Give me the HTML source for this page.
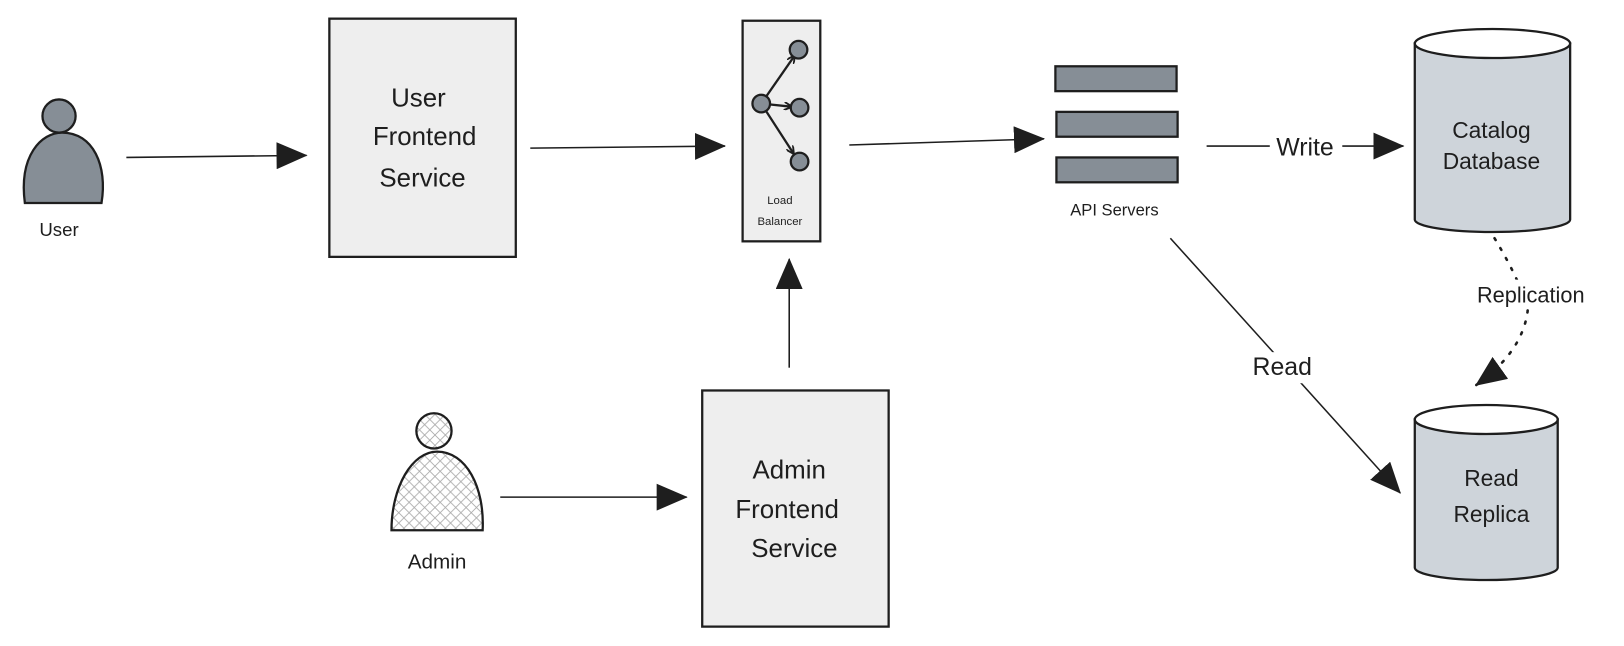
<!DOCTYPE html>
<html><head><meta charset="utf-8"><style>html,body{margin:0;padding:0;background:#fff}svg{display:block}text{font-family:"Liberation Sans",sans-serif;fill:#1e1e1e;text-anchor:middle}</style></head>
<body>
<svg width="1624" height="646" viewBox="0 0 1568 623.7" xmlns="http://www.w3.org/2000/svg">
<defs>
<marker id="b" markerWidth="30" markerHeight="26" refX="29" refY="13" orient="auto" markerUnits="userSpaceOnUse"><path d="M0,0 L30,13 L0,26 z" fill="#1e1e1e"/></marker>
<marker id="s" markerWidth="8" markerHeight="8" refX="7" refY="4" orient="auto" markerUnits="userSpaceOnUse"><path d="M0,0 L8,4 L0,8" fill="none" stroke="#1e1e1e" stroke-width="1.8"/></marker>
<pattern id="h" width="10" height="10" patternUnits="userSpaceOnUse"><path d="M0,0 L10,10 M10,0 L0,10" stroke="#aaa" stroke-width="0.8"/></pattern>
</defs>
<g stroke="#1e1e1e" stroke-width="1.5" fill="none">
<line x1="122" y1="152" x2="296" y2="150" marker-end="url(#b)"/>
<line x1="512" y1="143" x2="700" y2="141" marker-end="url(#b)"/>
<line x1="820" y1="140" x2="1008" y2="134" marker-end="url(#b)"/>
<line x1="1165" y1="141" x2="1355" y2="141" marker-end="url(#b)"/>
<line x1="1130" y1="230" x2="1352" y2="476" marker-end="url(#b)"/>
<line x1="762" y1="355" x2="762" y2="250" marker-end="url(#b)"/>
<line x1="483" y1="480" x2="663" y2="480" marker-end="url(#b)"/>
<path d="M1443,230 Q1470,275 1475,300 Q1470,340 1425,372" stroke-width="2.5" stroke-dasharray="2,9" stroke-linecap="round" marker-end="url(#b)"/>
</g>
<g stroke="#1e1e1e" stroke-width="2.2">
<rect x="318" y="18" width="180" height="230" fill="#eeeeee"/>
<rect x="678" y="377" width="180" height="228" fill="#eeeeee"/>
<rect x="717" y="20" width="75" height="213" fill="#eeeeee"/>
<rect x="1019" y="64" width="117" height="24" fill="#868e96"/>
<rect x="1020" y="108" width="117" height="24" fill="#868e96"/>
<rect x="1020" y="152" width="117" height="24" fill="#868e96"/>
<path d="M1366,42 L1366,212 A75,12 0 0 0 1516,212 L1516,42 Z" fill="#ced4da"/>
<ellipse cx="1441" cy="42" rx="75" ry="14" fill="#fff"/>
<path d="M1366,405 L1366,548 A69,12 0 0 0 1504,548 L1504,405 Z" fill="#ced4da"/>
<ellipse cx="1435" cy="405" rx="69" ry="14" fill="#fff"/>
<path d="M24,196 C18,150 40,128 60,128 C90,128 104,160 98,196 Z" fill="#868e96"/>
<circle cx="57" cy="112" r="16" fill="#868e96"/>
<path d="M378,512 C378,470 398,436 422,436 C450,436 468,470 466,512 Z" fill="url(#h)"/>
<circle cx="419" cy="416" r="17" fill="url(#h)"/>
</g>
<g stroke="#1e1e1e" stroke-width="2.2">
<line x1="735" y1="100" x2="767" y2="54" marker-end="url(#s)"/>
<line x1="735" y1="100" x2="764" y2="103" marker-end="url(#s)"/>
<line x1="735" y1="100" x2="766" y2="148" marker-end="url(#s)"/>
<circle cx="771" cy="48" r="8.5" fill="#868e96"/>
<circle cx="735" cy="100" r="8.5" fill="#868e96"/>
<circle cx="772" cy="104" r="8.5" fill="#868e96"/>
<circle cx="772" cy="156" r="8.5" fill="#868e96"/>
</g>
<rect x="1226" y="128" width="70" height="28" fill="#fff"/>
<rect x="1408" y="270" width="140" height="28" fill="#fff"/>
<rect x="1200" y="340" width="80" height="30" fill="#fff"/>
<g font-size="25">
<text x="404" y="103">User</text><text x="410" y="140">Frontend</text><text x="408" y="180">Service</text>
<text x="762" y="462">Admin</text><text x="760" y="500">Frontend</text><text x="767" y="538">Service</text>
</g>
<g font-size="22">
<text x="1440" y="133">Catalog</text><text x="1440" y="163">Database</text>
<text x="1440" y="469">Read</text><text x="1440" y="504">Replica</text>
<text x="1260" y="150" font-size="24">Write</text>
<text x="1478" y="292" font-size="21">Replication</text>
<text x="1238" y="362" font-size="24">Read</text>
<text x="57" y="228" font-size="18">User</text>
<text x="422" y="549" font-size="20">Admin</text>
</g>
<text x="1076" y="208" font-size="16">API Servers</text>
<text x="753" y="197" font-size="11">Load</text>
<text x="753" y="217" font-size="11">Balancer</text>
</svg>
</body></html>
